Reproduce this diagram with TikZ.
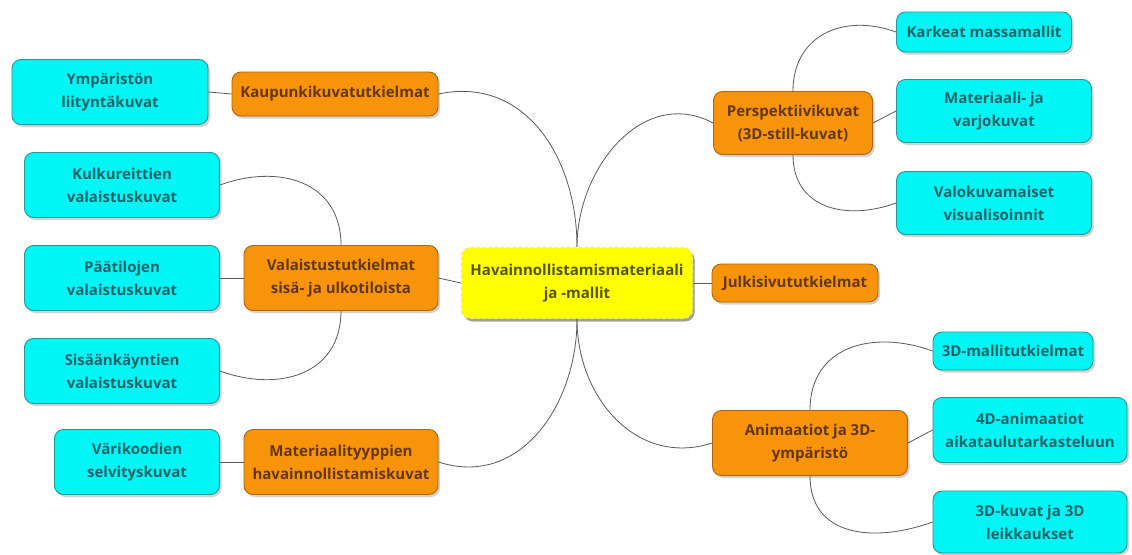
\documentclass[tikz,border=0pt]{standalone}
\usepackage{fontspec}
\setmainfont{Open Sans}
\newfontfamily\osb{Open Sans Bold}
\usetikzlibrary{shadows}
\definecolor{cyfill}{RGB}{0,245,245}
\definecolor{cyline}{RGB}{40,150,150}
\definecolor{cytext}{RGB}{25,100,105}
\definecolor{orfill}{RGB}{247,148,10}
\definecolor{orline}{RGB}{170,100,20}
\definecolor{ortext}{RGB}{100,55,10}
\definecolor{yefill}{RGB}{255,255,0}
\definecolor{yeline}{RGB}{235,235,140}
\definecolor{yetext}{RGB}{85,85,0}
\definecolor{edgegray}{RGB}{90,90,90}
\tikzset{
  basebox/.style={rounded corners=9pt, line width=0.9pt, align=center,
    font=\osb\fontsize{15}{23}\selectfont, inner sep=2pt,
    drop shadow={opacity=0.35, shadow xshift=2pt, shadow yshift=-2.5pt}},
  cybox/.style={basebox, fill=cyfill, draw=cyline, text=cytext},
  orbox/.style={basebox, fill=orfill, draw=orline, text=ortext},
  yebox/.style={basebox, fill=yefill, draw=yeline, dashed, line width=1.4pt, text=yetext,
    drop shadow={opacity=0.6, shadow xshift=2pt, shadow yshift=-3pt}},
  conn/.style={draw=edgegray, line width=0.8pt},
}
\begin{document}
\begin{tikzpicture}[x=1pt,y=-1pt]
\useasboundingbox (0,0) rectangle (1132,554);
\fill[white] (0,0) rectangle (1132,554);
% center
\node[yebox, minimum width=231pt, minimum height=71pt] (cen) at (577,283) {Havainnollistamismateriaali\\ja -mallit};
% left main
\node[orbox, minimum width=206pt, minimum height=44pt] (kau) at (335,94) {Kaupunkikuvatutkielmat};
\node[orbox, minimum width=194pt, minimum height=65pt] (vst) at (341,278) {Valaistustutkielmat\\sisä- ja ulkotiloista};
\node[orbox, minimum width=194pt, minimum height=65pt] (mat) at (341,462) {Materiaalityyppien\\havainnollistamiskuvat};
% left leaves
\node[cybox, minimum width=196pt, minimum height=65pt] (ymp) at (110,92) {Ympäristön\\liityntäkuvat};
\node[cybox, minimum width=195pt, minimum height=65pt] (kul) at (122,185) {Kulkureittien\\valaistuskuvat};
\node[cybox, minimum width=195pt, minimum height=65pt] (pat) at (122,278) {Päätilojen\\valaistuskuvat};
\node[cybox, minimum width=195pt, minimum height=65pt] (sis) at (122,371) {Sisäänkäyntien\\valaistuskuvat};
\node[cybox, minimum width=165pt, minimum height=65pt] (var) at (137,462) {Värikoodien\\selvityskuvat};
% right main
\node[orbox, minimum width=159pt, minimum height=63pt] (per) at (793,123) {Perspektiivikuvat\\(3D-still-kuvat)};
\node[orbox, minimum width=166pt, minimum height=38pt] (jul) at (795,283) {Julkisivututkielmat};
\node[orbox, minimum width=195pt, minimum height=65pt] (ani) at (810,443) {Animaatiot ja 3D-\\ympäristö};
% right leaves
\node[cybox, minimum width=175pt, minimum height=40pt] (kar) at (984,32) {Karkeat massamallit};
\node[cybox, minimum width=195pt, minimum height=63pt] (mav) at (994,111) {Materiaali- ja\\varjokuvat};
\node[cybox, minimum width=195pt, minimum height=63pt] (vlk) at (994,203) {Valokuvamaiset\\visualisoinnit};
\node[cybox, minimum width=160pt, minimum height=38pt] (m3d) at (1013,351) {3D-mallitutkielmat};
\node[cybox, minimum width=194pt, minimum height=65pt] (a4d) at (1030,430) {4D-animaatiot\\aikataulutarkasteluun};
\node[cybox, minimum width=194pt, minimum height=62pt] (k3d) at (1030,522) {3D-kuvat ja 3D\\leikkaukset};
% connectors center
\draw[conn] (kau.east) to[out=12, in=90, looseness=1.1] (cen.north);
\draw[conn] (per.west) to[out=152, in=90, looseness=1.1] (cen.north);
\draw[conn] (mat.east) to[out=-18, in=-90, looseness=1.1] (cen.south);
\draw[conn] (ani.west) to[out=198, in=-90, looseness=1.1] (cen.south);
\draw[conn] (vst.east) -- (cen.west);
\draw[conn] (cen.east) -- (jul.west);
% left subs
\draw[conn] (ymp.east) -- (kau.west);
\draw[conn] (kul.east) to[out=20, in=90, looseness=1.2] (vst.north);
\draw[conn] (pat.east) -- (vst.west);
\draw[conn] (sis.east) to[out=-20, in=-90, looseness=1.2] (vst.south);
\draw[conn] (var.east) -- (mat.west);
% right subs
\draw[conn] (per.north) to[out=90, in=160, looseness=1.2] (kar.west);
\draw[conn] (per.east) -- (mav.west);
\draw[conn] (per.south) to[out=-90, in=200, looseness=1.2] (vlk.west);
\draw[conn] (ani.north) to[out=90, in=160, looseness=1.2] (m3d.west);
\draw[conn] (ani.east) -- (a4d.west);
\draw[conn] (ani.south) to[out=-90, in=200, looseness=1.2] (k3d.west);
\end{tikzpicture}
\end{document}
